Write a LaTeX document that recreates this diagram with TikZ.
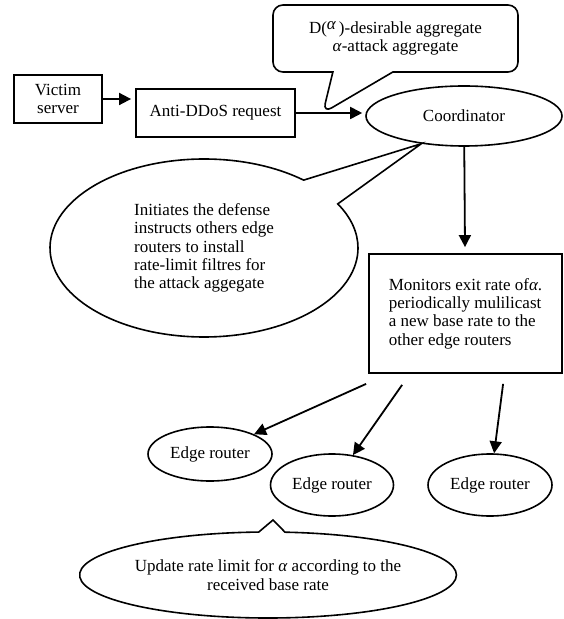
\documentclass[tikz,border=0pt]{standalone}
\usepackage{fontspec}
\setmainfont{Liberation Serif}
\usetikzlibrary{shapes.geometric,shapes.callouts,arrows.meta,calc}

\tikzset{
    txt/.style={font=\fontsize{8.5}{9.2}\selectfont},
    box/.style={txt,draw,line width=0.9pt,inner sep=0pt,align=center},
    oval/.style={txt,draw,ellipse,line width=0.8pt,inner sep=0pt},
    arr/.style={line width=0.9pt,-{Triangle[length=6pt,width=6pt]}},
}

\begin{document}
\begin{tikzpicture}[x=0.5pt,y=-0.5pt]
    \useasboundingbox (0,0) rectangle (563,619);

    %%% Request %%%

    \node[box,minimum width=44pt,minimum height=24pt] (victim) at (58,99) {Victim\\server};
    \node[box,minimum width=79.5pt,minimum height=24pt] (anti) at (215.5,113) {Anti-DDoS request};
    \node[oval,minimum width=98pt,minimum height=30pt] (coord) at (464,116) {Coordinator};

    \draw[arr,shorten >=2pt] (victim.east) -- (victim.east -| anti.west);
    \draw[arr,shorten >=1.5pt] (anti.east) -- (anti.east -| coord.west);

    \coordinate (dtip) at ($(anti.east)+(27,0)$);
    \node[txt,draw,rectangle callout,rounded corners=5pt,line width=0.8pt,
        minimum width=122.5pt,minimum height=33.5pt,align=center,
        callout absolute pointer={(dtip)},callout pointer width=30pt] (aggr) at (395.5,38.5)
        {D(\raisebox{2pt}{\textit{α}}\,)-desirable aggregate\\\textit{α}-attack aggregate};

    %%% Defense %%%

    \node[oval,ellipse callout,minimum width=154pt,minimum height=89pt,align=left,
        callout absolute pointer={(coord.213)},callout pointer arc=20] (init) at (204,248)
        {Initiates the defense\\instructs others edge\\routers to install\\rate-limit filtres for\\the attack aggegate};

    \node[box,minimum width=96.5pt,minimum height=59.5pt,align=left] (mon) at (465.5,313.5)
        {Monitors exit rate of\textit{α}.\\periodically mulilicast\\a new base rate to the\\other edge routers};

    \draw[arr,shorten >=3pt] (coord) -- (mon);

    %%% Edge routers %%%

    \node[oval,minimum width=62pt,minimum height=27pt] (er1) at (210,454) {Edge router};
    \node[oval,minimum width=61.5pt,minimum height=31pt] (er2) at (332,485) {Edge router};
    \node[oval,minimum width=62pt,minimum height=31pt] (er3) at (490,485) {Edge router};

    \coordinate (m1) at ($(mon.south west)+(-2,10)$);
    \coordinate (m2) at ($(mon.south west)+(34,11)$);
    \coordinate (m3) at ($(mon.south west)+(135,10)$);
    \foreach \s/\t in {m1/er1,m2/er2,m3/er3}
        \draw[arr] (\s) -- (\t);

    \coordinate (utip) at (273,520);
    \node[oval,ellipse callout,minimum width=187pt,minimum height=43pt,align=center,
        callout absolute pointer={(utip)},callout pointer arc=8] (upd) at (268,575)
        {Update rate limit for \textit{α} according to the\\received base rate};

\end{tikzpicture}
\end{document}
